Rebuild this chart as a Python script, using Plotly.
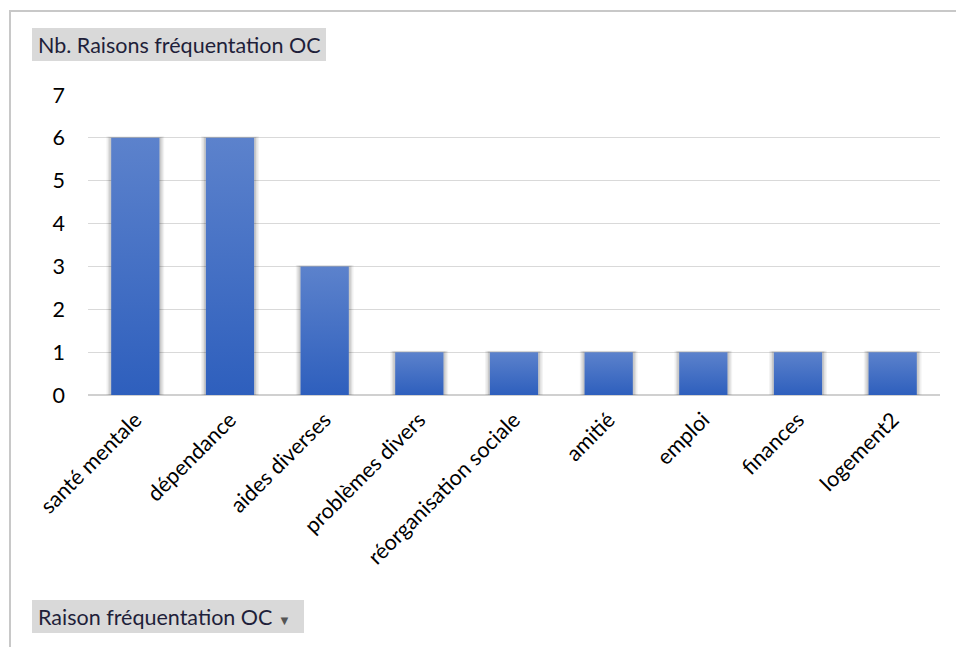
import plotly.graph_objects as go

# Data
categories = ["santé mentale", "dépendance", "aides diverses", "problèmes divers",
              "réorganisation sociale", "amitié", "emploi", "finances", "logement2"]
counts = [6, 6, 3, 1, 1, 1, 1, 1, 1]
y_ticks = [0, 1, 2, 3, 4, 5, 6, 7]

W, H = 956, 647
ML, MR, MT, MB = 88, 16, 95, 252
PW, PH = W - ML - MR, H - MT - MB


def px_x(px):
    return (px - ML) / PW


def px_y(py):
    return (H - MB - py) / PH


FONT = "Lato"
FS = 21.5
BAR_W = 0.51
idx = list(range(len(categories)))

fig = go.Figure()

# soft shadow behind each bar
for extra, alpha in [(0.10, 0.05), (0.07, 0.07), (0.04, 0.10)]:
    fig.add_trace(go.Bar(
        x=idx, y=[v + extra * 0.35 for v in counts], width=BAR_W + extra,
        marker=dict(color=f"rgba(0,0,0,{alpha})", line=dict(width=0)),
        hoverinfo="skip", showlegend=False,
    ))

# gradient-filled bars
for i, (cat, v) in enumerate(zip(categories, counts)):
    x0, x1 = i - BAR_W / 2, i + BAR_W / 2
    fig.add_trace(go.Scatter(
        x=[x0, x1, x1, x0, x0], y=[0, 0, v, v, 0],
        mode="lines", fill="toself", line=dict(width=0, color="rgba(0,0,0,0)"),
        fillgradient=dict(type="vertical",
                          colorscale=[[0, "#2e5fbd"], [1, "#5c82cc"]]),
        name=cat, hovertemplate=f"{cat}: {v}<extra></extra>", showlegend=False,
    ))

fig.update_layout(
    width=W, height=H,
    margin=dict(l=ML, r=MR, t=MT, b=MB, pad=0),
    paper_bgcolor="white", plot_bgcolor="white",
    barmode="overlay",
    font=dict(family=FONT, size=FS, color="#000000"),
    xaxis=dict(
        range=[-0.5, len(categories) - 0.5],
        tickmode="array", tickvals=idx, ticktext=categories,
        tickangle=-45, showgrid=False, zeroline=False, showline=False,
        ticks="", ticklabelstandoff=7,
        tickfont=dict(family=FONT, size=FS, color="#000000"),
    ),
    yaxis=dict(
        range=[0, 7], tickmode="array", tickvals=y_ticks,
        showgrid=True, gridcolor="#d9d9d9", gridwidth=1.3,
        zeroline=True, zerolinecolor="#d0d0d0", zerolinewidth=1.5,
        showline=False, ticks="", ticklabelstandoff=22,
        tickfont=dict(family=FONT, size=FS, color="#000000"),
    ),
    showlegend=False,
)

# outer chart frame
fig.add_shape(type="rect", xref="paper", yref="paper",
              x0=px_x(10), x1=px_x(990), y0=px_y(700), y1=px_y(11),
              line=dict(color="#c8c8c8", width=2), fillcolor="rgba(0,0,0,0)",
              layer="below")

# field buttons (value field and axis field)
fig.add_shape(type="rect", xref="paper", yref="paper",
              x0=px_x(32), x1=px_x(326), y0=px_y(61), y1=px_y(28),
              line=dict(width=0), fillcolor="#d9d9d9", layer="below")
fig.add_annotation(xref="paper", yref="paper", x=px_x(36), y=px_y(44.5),
                   xanchor="left", yanchor="middle", showarrow=False,
                   text="Nb. Raisons fréquentation OC",
                   font=dict(family=FONT, size=FS, color="#1f1f3a"))

fig.add_shape(type="rect", xref="paper", yref="paper",
              x0=px_x(32), x1=px_x(304), y0=px_y(633), y1=px_y(600),
              line=dict(width=0), fillcolor="#d9d9d9", layer="below")
fig.add_annotation(xref="paper", yref="paper", x=px_x(36), y=px_y(616.5),
                   xanchor="left", yanchor="middle", showarrow=False,
                   text="Raison fréquentation OC <span style='font-size:13px;color:#555555'>▼</span>",
                   font=dict(family=FONT, size=FS, color="#1f1f3a"))

fig.write_html("out.html")
